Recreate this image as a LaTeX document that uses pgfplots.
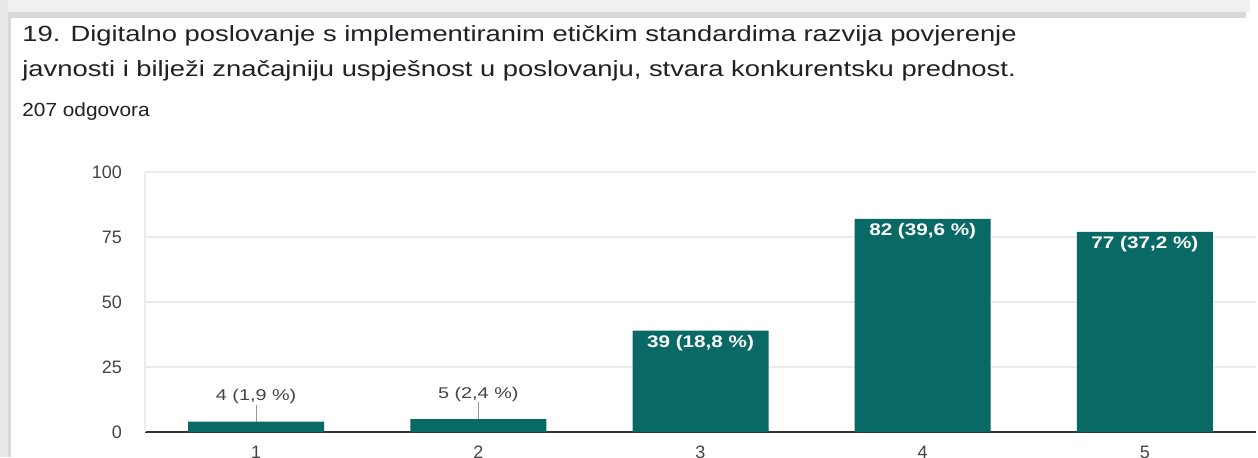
\documentclass[border=0pt]{standalone}
\usepackage{pgfplots}
\pgfplotsset{compat=1.18}
\usepackage{graphicx}
\usepackage{fontspec}
\setmainfont{Liberation Sans}
\definecolor{barc}{RGB}{9,105,100}
\definecolor{titlec}{RGB}{32,33,36}
\definecolor{labc}{RGB}{68,68,68}
\definecolor{gridc}{RGB}{235,235,235}
\definecolor{axisc}{RGB}{51,51,51}
\definecolor{leadc}{RGB}{150,150,150}
\begin{document}
\begin{tikzpicture}
\useasboundingbox (0,0) rectangle (629pt,228.5pt);
\fill[white] (0,0) rectangle (629pt,228.5pt);
% frame shadow
\fill[gray!12] (0,222.5pt) rectangle (625pt,228.5pt);
\fill[gray!30] (4pt,219.5pt) rectangle (623pt,222.5pt);
\fill[gray!18] (0,0) rectangle (4pt,228.5pt);
\fill[gray!30] (4pt,0) rectangle (5.5pt,222.5pt);
% titles
\node[anchor=base west, inner sep=0pt, text=titlec, font=\fontsize{11}{13}\selectfont] at (11pt,207.75pt) {\scalebox{1.244}[1]{19. Digitalno poslovanje s implementiranim etičkim standardima razvija povjerenje}};
\node[anchor=base west, inner sep=0pt, text=titlec, font=\fontsize{11}{13}\selectfont] at (11pt,190.5pt) {\scalebox{1.244}[1]{javnosti i bilježi značajniju uspješnost u poslovanju, stvara konkurentsku prednost.}};
\node[anchor=base west, inner sep=0pt, text=titlec, font=\fontsize{9.5}{11}\selectfont] at (11pt,170.5pt) {\scalebox{1.095}[1]{207 odgovora}};
\begin{axis}[
  at={(72.5pt,12.5pt)}, anchor=south west,
  scale only axis, width=555.5pt, height=130pt,
  xmin=0.5, xmax=5.5, ymin=0, ymax=100,
  xtick={1,2,3,4,5}, ytick={0,25,50,75,100},
  axis lines=left, axis line style={-},
  x axis line style={draw=axisc, line width=0.7pt},
  y axis line style={draw=gridc, line width=0.7pt},
  ymajorgrids, grid style={draw=gridc, line width=0.7pt},
  major tick length=0pt,
  tick label style={text=labc, font=\fontsize{9}{11}\selectfont},
  /pgf/number format/assume math mode=true,
  yticklabel style={xshift=-8pt},
  xticklabel style={yshift=-3.5pt},
  clip=false,
]
\addplot[ybar, bar width=68pt, bar shift=0pt, fill=barc, draw=none,
  point meta=explicit symbolic,
  nodes near coords={\scalebox{1.27}[1]{\pgfplotspointmeta}},
  every node near coord/.append style={anchor=base, yshift=10.5pt, inner sep=0pt, text=labc, font=\fontsize{7.8}{9}\selectfont}]
  coordinates {(1,4) [4 (1,9 \%)] (2,5) [5 (2,4 \%)]};
\addplot[ybar, bar width=68pt, bar shift=0pt, fill=barc, draw=none,
  point meta=explicit symbolic,
  nodes near coords={\scalebox{1.23}[1]{\pgfplotspointmeta}},
  every node near coord/.append style={anchor=base, yshift=-8.5pt, inner sep=0pt, text=white, font=\fontsize{8.4}{10}\selectfont\bfseries}]
  coordinates {(3,39) [39 (18,8 \%)] (4,82) [82 (39,6 \%)] (5,77) [77 (37,2 \%)]};
\addplot[draw=none, mark=none, forget plot,
  error bars/.cd, y dir=plus, y explicit, error mark=none,
  error bar style={draw=leadc, line width=0.5pt, solid}]
  coordinates {(1,4) +- (0,6.4) (2,5) +- (0,6.4)};
\end{axis}
\end{tikzpicture}
\end{document}
